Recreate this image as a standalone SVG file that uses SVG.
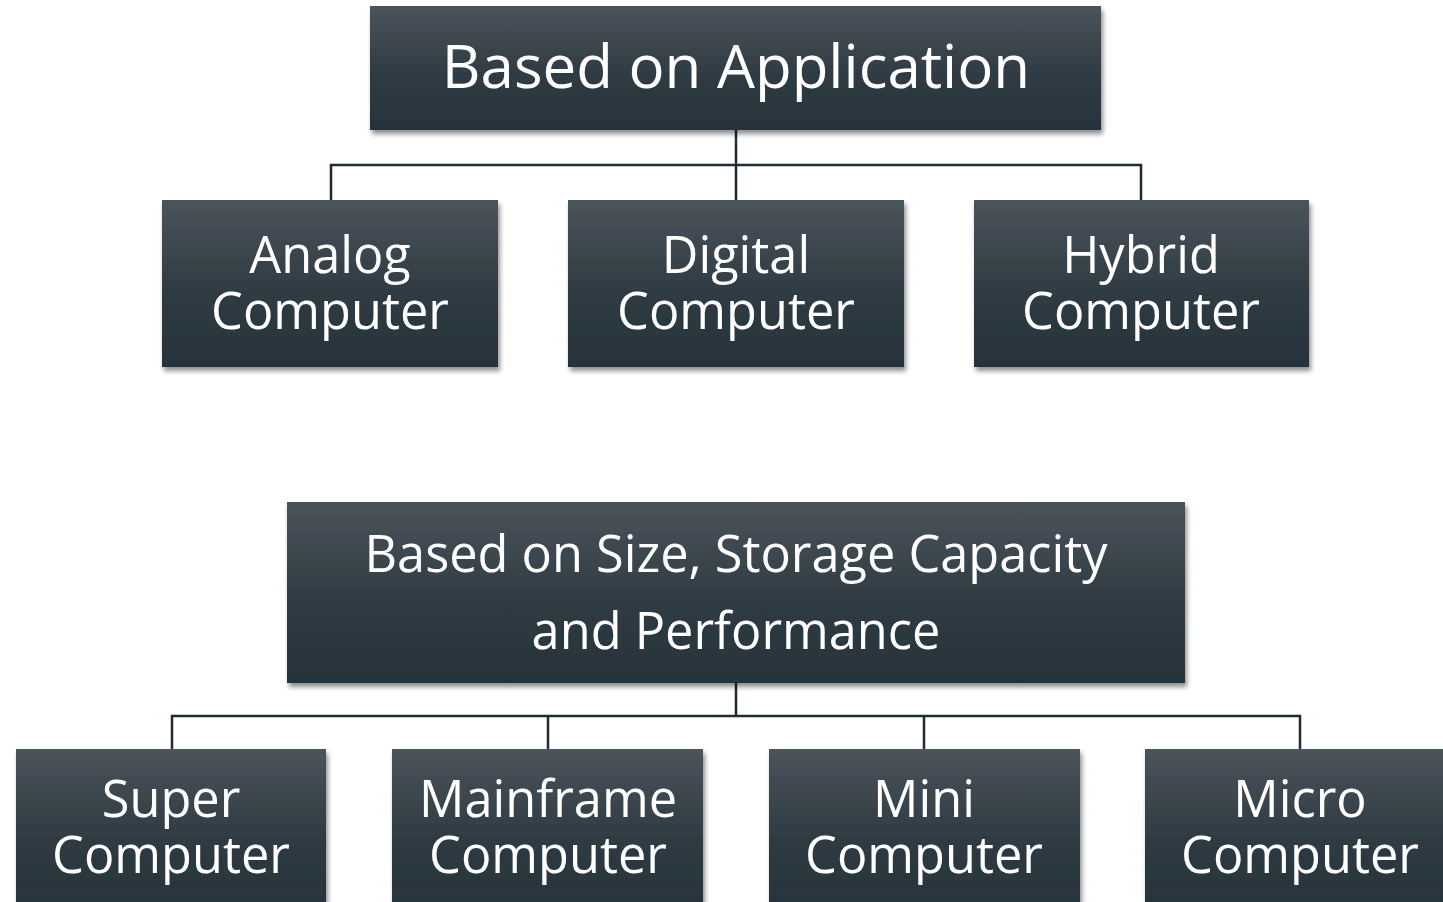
<svg xmlns="http://www.w3.org/2000/svg" width="1443" height="902" viewBox="0 0 1443 902">
<defs>
<linearGradient id="g" x1="0" y1="0" x2="0" y2="1">
<stop offset="0" stop-color="#4b545b"/>
<stop offset="0.55" stop-color="#2f3b43"/>
<stop offset="1" stop-color="#27333b"/>
</linearGradient>
<filter id="sh" x="-5%" y="-5%" width="112%" height="120%">
<feGaussianBlur in="SourceAlpha" stdDeviation="2.5"/>
<feOffset dx="2" dy="4" result="b"/>
<feComponentTransfer><feFuncA type="linear" slope="0.45"/></feComponentTransfer>
<feMerge><feMergeNode/><feMergeNode in="SourceGraphic"/></feMerge>
</filter>
</defs>
<style>
.box{fill:url(#g);filter:url(#sh)}
.t{fill:#ffffff;font-family:"Open Sans","DejaVu Sans",sans-serif;text-anchor:middle}
.big{font-size:60px}
.mid{font-size:50.5px}
.c{fill:none;stroke:#1f2b33;stroke-width:2.5}
</style>
<rect width="1443" height="902" fill="#ffffff"/>
<g id="connectors">
<path class="c" d="M736 130V165M331 200V165H1141V200M736 165V200"/>
<path class="c" d="M736 683V716M172 749V716H1300V749M548 716V749M924 716V749"/>
</g>
<g id="n-app"><rect class="box" x="370" y="6" width="731" height="124"/><text class="t big" x="736" y="88">Based on Application</text></g>
<g id="n-analog"><rect class="box" x="162" y="200" width="336" height="167"/><text class="t mid" x="330" y="273">Analog</text><text class="t mid" x="330" y="329">Computer</text></g>
<g id="n-digital"><rect class="box" x="568" y="200" width="336" height="167"/><text class="t mid" x="736" y="273">Digital</text><text class="t mid" x="736" y="329">Computer</text></g>
<g id="n-hybrid"><rect class="box" x="974" y="200" width="335" height="167"/><text class="t mid" x="1141" y="273">Hybrid</text><text class="t mid" x="1141" y="329">Computer</text></g>
<g id="n-size"><rect class="box" x="287" y="502" width="898" height="181"/><text class="t mid" x="736" y="572">Based on Size, Storage Capacity</text><text class="t mid" x="736" y="649">and Performance</text></g>
<g id="n-super"><rect class="box" x="16" y="749" width="310" height="160"/><text class="t mid" x="171" y="817">Super</text><text class="t mid" x="171" y="873">Computer</text></g>
<g id="n-mainframe"><rect class="box" x="392" y="749" width="311" height="160"/><text class="t mid" x="548" y="817">Mainframe</text><text class="t mid" x="548" y="873">Computer</text></g>
<g id="n-mini"><rect class="box" x="769" y="749" width="311" height="160"/><text class="t mid" x="924" y="817">Mini</text><text class="t mid" x="924" y="873">Computer</text></g>
<g id="n-micro"><rect class="box" x="1145" y="749" width="310" height="160"/><text class="t mid" x="1300" y="817">Micro</text><text class="t mid" x="1300" y="873">Computer</text></g>
</svg>
